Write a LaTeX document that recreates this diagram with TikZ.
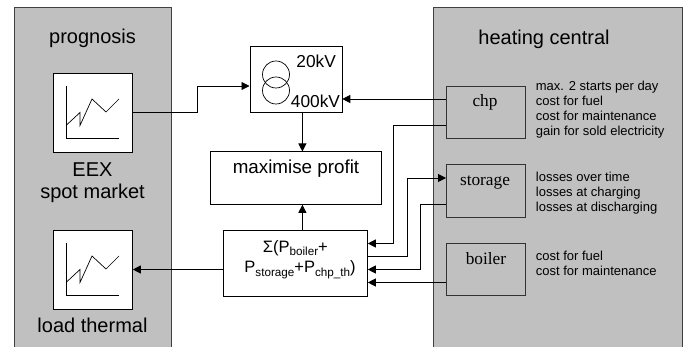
\documentclass[tikz,border=0pt]{standalone}
\usepackage{fontspec}
\setmainfont{Liberation Sans}
\newfontfamily\unitfont{Liberation Serif}
\definecolor{panelGrey}{RGB}{192,192,192}
\definecolor{lineGrey}{RGB}{64,64,64}
\usetikzlibrary{arrows.meta,positioning,calc}
\newcommand{\lowtext}[1]{\raisebox{-3.5pt}{\fontsize{11.7}{13}\selectfont #1}}

\begin{document}
\begin{tikzpicture}[
  x=1pt, y=-1pt, line width=0.8pt,
  panel/.style={draw=lineGrey, fill=panelGrey, anchor=north west, inner sep=0pt},
  box/.style={draw, fill=white, inner sep=0pt},
  unit/.style={draw=black!80, inner sep=0pt, minimum width=79pt, minimum height=52.5pt, anchor=north west},
  title/.style={font=\fontsize{20}{22}\selectfont, inner sep=0pt, anchor=base, align=center},
  unitname/.style={font=\unitfont\fontsize{17.3}{19}\selectfont, inner sep=0pt, anchor=base},
  notes/.style={font=\fontsize{13}{15}\selectfont, inner sep=0pt, anchor=north west, align=left},
  volt/.style={font=\fontsize{17.3}{19}\selectfont, inner sep=0pt, anchor=base west},
  sumtext/.style={font=\fontsize{16.5}{19}\selectfont, inner sep=0pt, anchor=base west},
  flow/.style={-{Triangle[length=8pt,width=8pt]}}
]
  \useasboundingbox (0,0) rectangle (686,347);

  % grey panels
  \node[panel, minimum width=157pt, minimum height=345pt] (prog) at (14,7.5) {};
  \node[panel, minimum width=249pt, minimum height=345pt] (heat) at (433,7.5) {};
  \node[title] (progT) at (92.5,44) {prognosis};
  \node[title] (heatT) at (544,45) {heating central};

  % charts on the left
  \foreach \name/\ytop in {eex/73, load/230} {
    \node[box, minimum width=79pt, minimum height=79pt, anchor=north west] (\name) at (53,\ytop) {};
    \draw[line width=0.7pt] ($(\name.north west)+(13,13)$) -- ++(0,52.5) -- ++(53,0);
    \draw[line width=0.7pt] ($(\name.north west)+(13,52.5)$) -- ++(14,-13) -- ++(0,13)
      -- ++(12,-26.5) -- ++(14,13) -- ++(13,-13);
  }
  \node[title] (eexT) at (92.5,177) {EEX};
  \node[title] (spotT) at (92.5,199) {spot market};
  \node[title] (loadT) at (92.5,333) {load thermal};

  % middle column
  \node[box, minimum width=92pt, minimum height=65.5pt, anchor=north west] (trafo) at (249.5,46.5) {};
  \draw[line width=0.7pt] (276,74.5) circle (13.5);
  \draw[line width=0.7pt] (276,90.5) circle (13.5);
  \node[volt] (kvA) at (296,68) {20kV};
  \node[volt] (kvB) at (290.5,107.5) {400kV};
  \node[box, minimum width=171pt, minimum height=52.5pt, anchor=north west] (profit) at (210,151.5) {};
  \node[font=\fontsize{18.8}{21}\selectfont, inner sep=0pt, anchor=base] (profitT) at (296,174) {maximise profit};
  \node[box, minimum width=144pt, minimum height=65.5pt, anchor=north west] (sum) at (223,230.5) {};
  \node[sumtext] (sumTa) at (262.5,252.5) {Σ(P\lowtext{boiler}+};
  \node[sumtext] (sumTb) at (244,273) {P\lowtext{storage}+P\lowtext{chp\_th})};

  % units on the right
  \node[unit, fill=panelGrey] (chp) at (446,86) {};
  \node[unit, fill=panelGrey] (storage) at (446,164.5) {};
  \node[unit, fill=panelGrey] (boiler) at (446,243) {};
  \node[unitname] (chpT) at (485,107) {chp};
  \node[unitname] (storageT) at (485,186) {storage};
  \node[unitname] (boilerT) at (486,265) {boiler};
  \node[notes] (chpN) at (535.5,81) {max. 2 starts per day\\cost for fuel\\cost for maintenance\\gain for sold electricity};
  \node[notes] (storageN) at (535.5,172) {losses over time\\losses at charging\\losses at discharging};
  \node[notes] (boilerN) at (535.5,251) {cost for fuel\\cost for maintenance};

  % connectors
  \coordinate (trafoIn) at ($(trafo.north west)+(0,39.5)$);
  \coordinate (downX) at ($(trafo.south)+(6.5,0)$);
  \coordinate (sumOut) at ($(sum.north west)+(0,39)$);
  \coordinate (chpIn) at ($(chp.north west)+(0,13)$);
  \coordinate (chpOut) at ($(chp.north west)+(0,39)$);
  \coordinate (storageIn) at ($(storage.north west)+(0,13.5)$);
  \coordinate (storageOut) at ($(storage.north west)+(0,39.5)$);
  \coordinate (boilerOut) at ($(boiler.north west)+(0,39.5)$);
  \coordinate (sumA) at ($(sum.north east)+(0,13)$);
  \coordinate (sumB) at ($(sum.north east)+(0,26)$);
  \coordinate (sumC) at ($(sum.north east)+(0,39)$);
  \coordinate (sumD) at ($(sum.north east)+(0,52)$);
  \coordinate (eexKnee) at (eex.east -| 197,0);
  \draw[flow] (eex.east) -- (eexKnee) |- (trafoIn);
  \draw[flow] (downX) -- (downX |- profit.north);
  \draw[flow] (downX |- sum.north) -- (downX |- profit.south);
  \draw[flow] (sumOut) -- (sumOut -| load.east);
  \draw[flow] (chpIn) -- (chpIn -| trafo.east);
  \draw[flow] (chpOut) -- (chpOut -| 393.5,0) |- (sumA);
  \draw[flow] (sumB) -- (sumB -| 407,0) |- (storageIn);
  \draw[flow] (storageOut) -- (storageOut -| 420,0) |- (sumC);
  \draw[flow] (boilerOut) -- (boilerOut -| sumD);
\end{tikzpicture}
\end{document}
